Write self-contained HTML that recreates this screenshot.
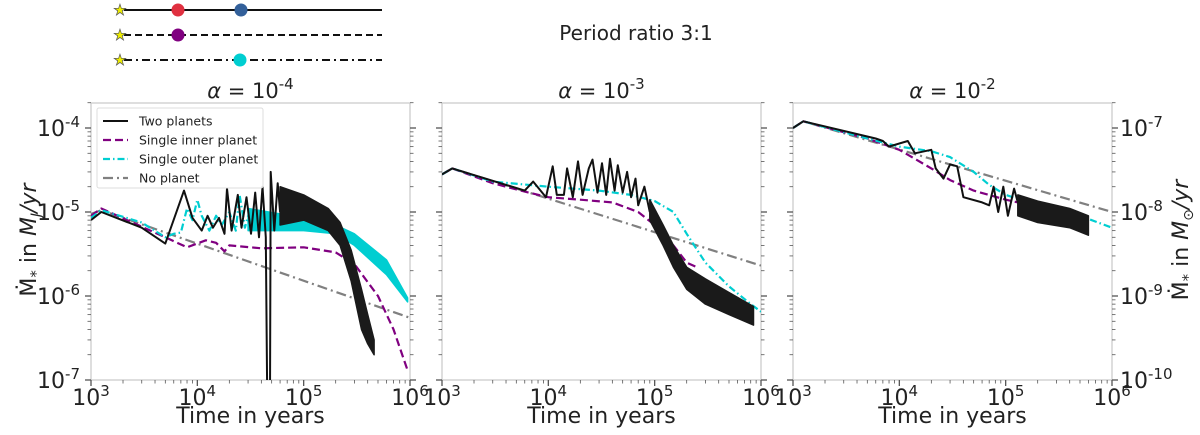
<!DOCTYPE html>
<html><head><meta charset="utf-8"><style>
html,body{margin:0;padding:0;background:#fff;width:1200px;height:435px;overflow:hidden;}
svg{display:block;font-family:"DejaVu Sans","Liberation Sans",sans-serif;overflow:hidden;}
</style></head><body>
<svg id="c" width="1200" height="435" viewBox="0 0 1200 435" xmlns="http://www.w3.org/2000/svg">
<g>
<line x1="124" y1="10" x2="382" y2="10" stroke="#111" stroke-width="2"/>
<line x1="124" y1="35" x2="382" y2="35" stroke="#111" stroke-width="2" stroke-dasharray="7,4"/>
<line x1="124" y1="60" x2="382" y2="60" stroke="#111" stroke-width="2" stroke-dasharray="8,4,2,4"/>
<text x="120" y="15" font-size="15" text-anchor="middle" fill="#ee0" stroke="#555" stroke-width="0.7">★</text>
<text x="120" y="40" font-size="15" text-anchor="middle" fill="#ee0" stroke="#555" stroke-width="0.7">★</text>
<text x="120" y="65" font-size="15" text-anchor="middle" fill="#ee0" stroke="#555" stroke-width="0.7">★</text>
<circle cx="178" cy="10" r="6.5" fill="#e03040"/>
<circle cx="241" cy="10" r="6.5" fill="#33609a"/>
<circle cx="178" cy="35" r="6.5" fill="#800080"/>
<circle cx="240" cy="60" r="6.5" fill="#00ced1"/>
</g>
<text x="636" y="40" font-size="20" text-anchor="middle" fill="#222">Period ratio 3:1</text>
<g id="plots"></g>
</svg>
<script>
// Panel 1 (alpha 1e-4), units MJ/yr
const p1_two_t=[1e3,1.25e3,3e3,5e3,7.5e3,9e3,1.1e4,1.25e4,1.4e4,1.6e4,1.8e4,1.9e4,2.1e4,2.4e4,2.6e4,2.9e4,3.2e4,3.5e4,3.8e4,4.1e4,4.4e4,4.6e4,4.7e4,4.8e4,4.9e4,5.3e4,5.7e4,6e4];
const p1_two_v=[8e-6,1e-5,6.5e-6,4.2e-6,1.8e-5,8.5e-6,6e-6,9e-6,6.5e-6,8.5e-6,5.5e-6,1.9e-5,6e-6,1.6e-5,6.5e-6,1.5e-5,5.5e-6,1.7e-5,5e-6,2e-5,5e-6,1e-8,1e-8,1e-8,3e-5,6e-6,2.2e-5,1e-5];
const p1_twoBand_t=[6e4,1e5,1.7e5,2.2e5,2.8e5,3.5e5,4e5,4.6e5];
const p1_twoBand_hi=[2e-5,1.6e-5,1.1e-5,7.5e-6,3.5e-6,1.2e-6,6e-7,3e-7];
const p1_twoBand_lo=[7e-6,8e-6,6e-6,4e-6,1.5e-6,4e-7,2.7e-7,2e-7];
const p1_inner_t=[1e3,1.25e3,5e3,8e3,1.2e4,1.5e4,1.8e4,2e4,4e4,1e5,2e5,3e5,5e5,7e5,9.5e5];
const p1_inner_v=[9e-6,1.1e-5,5e-6,3.8e-6,4.6e-6,4.3e-6,3.4e-6,4e-6,3.7e-6,3.8e-6,3.3e-6,2.4e-6,1e-6,4e-7,1.3e-7];
const p1_outer_t=[1e3,1.25e3,3e3,5e3,6e3,7e3,8e3,9e3,1e4,1.1e4,1.3e4,1.5e4,1.7e4,2e4,2.3e4,2.5e4,2.8e4,3e4];
const p1_outer_v=[8.5e-6,1.05e-5,7.5e-6,5e-6,5.5e-6,5.7e-6,1.1e-5,8e-6,1.4e-5,9e-6,6e-6,9e-6,7e-6,1e-5,6e-6,1.6e-5,6.5e-6,9e-6];
const p1_outerBand_t=[3e4,1e5,2e5,3e5,6e5,9.5e5];
const p1_outerBand_hi=[1.1e-5,8.5e-6,7e-6,5.5e-6,2.7e-6,9.5e-7];
const p1_outerBand_lo=[6e-6,6e-6,5.5e-6,4e-6,1.8e-6,8.5e-7];
const p1_none_t=[1e3,1.25e3,1e6];
const p1_none_v=[9.5e-6,1.05e-5,5.5e-7];
// Panel 2 (alpha 1e-3)
const p2_two_t=[1e3,1.25e3,6e3,7.2e3,9.5e3,1.1e4,1.2e4,1.4e4,1.5e4,1.7e4,1.9e4,2.1e4,2.4e4,2.6e4,2.9e4,3.2e4,3.5e4,3.8e4,4.2e4,4.5e4,5e4,5.5e4,6e4,6.6e4,7e4,8e4,9e4];
const p2_two_v=[2.8e-5,3.3e-5,1.8e-5,2.3e-5,1.5e-5,3.5e-5,1.6e-5,1.6e-5,3.3e-5,1.5e-5,4e-5,1.6e-5,3.3e-5,4.2e-5,1.7e-5,3.8e-5,1.6e-5,4.3e-5,1.8e-5,3.6e-5,1.7e-5,3e-5,1.5e-5,2.5e-5,1.2e-5,2e-5,1e-5];
const p2_twoBand_t=[9e4,1.2e5,1.5e5,2e5,3e5,5e5,8.5e5];
const p2_twoBand_hi=[1.4e-5,7e-6,4e-6,2.2e-6,1.6e-6,1.1e-6,7.5e-7];
const p2_twoBand_lo=[8e-6,4e-6,2.2e-6,1.2e-6,8e-7,6e-7,4.5e-7];
const p2_inner_t=[1e3,1.25e3,3e3,6e3,1e4,2e4,4e4,7e4,1e5,1.5e5,2e5,2.5e5];
const p2_inner_v=[2.8e-5,3.3e-5,2.2e-5,1.75e-5,1.5e-5,1.4e-5,1.3e-5,1e-5,7e-6,4e-6,2.5e-6,2.2e-6];
const p2_outer_t=[1e3,1.25e3,3e3,1e4,3e4,6e4,1e5,1.5e5,2e5,3e5,5e5,8e5,1e6];
const p2_outer_v=[2.8e-5,3.3e-5,2.3e-5,2e-5,1.8e-5,1.6e-5,1.35e-5,1e-5,5.5e-6,2.5e-6,1.3e-6,8e-7,6.5e-7];
const p2_none_t=[1e3,1.25e3,1e6];
const p2_none_v=[2.8e-5,3.3e-5,2.3e-6];
// Panel 3 (alpha 1e-2), units Msun/yr
const p3_two_t=[1e3,1.25e3,6e3,7e3,8e3,1.2e4,1.4e4,2e4,2.2e4,2.6e4,3e4,3.5e4,4e4,6e4,7e4,7.7e4,8.5e4,9.5e4,1.05e5,1.2e5,1.3e5];
const p3_two_v=[1e-7,1.2e-7,7.5e-8,7e-8,6e-8,7e-8,5e-8,5.5e-8,3.3e-8,2.5e-8,3.7e-8,3.5e-8,1.5e-8,1.3e-8,1.2e-8,2e-8,1e-8,2e-8,9e-9,1.9e-8,1.3e-8];
const p3_twoBand_t=[1.3e5,2e5,4e5,6e5];
const p3_twoBand_hi=[1.6e-8,1.35e-8,1.1e-8,9e-9];
const p3_twoBand_lo=[9e-9,7.5e-9,6.5e-9,5.3e-9];
const p3_inner_t=[1e3,1.25e3,5e3,1e4,2e4,3e4,5e4,1e5,2e5,4e5];
const p3_inner_v=[1e-7,1.2e-7,7.5e-8,5.5e-8,3.3e-8,2.4e-8,1.8e-8,1.4e-8,1.15e-8,9e-9];
const p3_outer_t=[1e3,1.25e3,5e3,1e4,2e4,3e4,5e4,7e4,1e5,2e5,5e5,1e6];
const p3_outer_v=[1e-7,1.2e-7,7.5e-8,6e-8,5.3e-8,4.5e-8,3e-8,2.1e-8,1.6e-8,1.2e-8,9e-9,6.5e-9];
const p3_none_t=[1e3,1.25e3,1e6];
const p3_none_v=[1e-7,1.2e-7,1e-8];
const legendLabels=["Two planets","Single inner planet","Single outer planet","No planet"];
const xTickLabels=["3","4","5","6"];
const alphaExps=["-4","-3","-2"];

const NS="http://www.w3.org/2000/svg";
const root=document.getElementById('plots');
function el(tag,attrs,parent){const e=document.createElementNS(NS,tag);for(const k in attrs)e.setAttribute(k,attrs[k]);(parent||root).appendChild(e);return e;}
const TOP=103,BOT=380,PERDEC=84;
const styles={two:{stroke:"#111",dash:"",w:2},inner:{stroke:"#800080",dash:"8,4",w:2.2},outer:{stroke:"#00ced1",dash:"7,3,1.5,3",w:2.2},none:{stroke:"#808080",dash:"10,4,2,4",w:2.2}};
function makePanel(idx,x0,x1,botExp,d){
  const X=t=>x0+(Math.log10(t)-3)/3*(x1-x0);
  const Y=v=>BOT-(Math.log10(v)-botExp)*PERDEC;
  const g=el('g',{});
  
  
  const cp=el('clipPath',{id:'cp'+idx},g);el('rect',{x:x0,y:TOP,width:x1-x0,height:BOT-TOP},cp);
  const fr=el('rect',{x:x0,y:TOP,width:x1-x0,height:BOT-TOP,fill:"none",stroke:"#ccc","stroke-width":1.3},g);
  
  
  for(let e=3;e<=6;e++){
    for(let m=1;m<10;m++){const t=m*Math.pow(10,e);if(t>1e6)break;const x=X(t);
      el('line',{x1:x,y1:BOT,x2:x,y2:BOT+(m==1?6:3.5),stroke:"#555","stroke-width":m==1?1.3:0.8},g);}
  }
  xTickLabels.forEach((s,i)=>{const tx=el('text',{x:X(Math.pow(10,3+i)),y:BOT+25,"font-size":22,"text-anchor":"middle",fill:"#222"},g);
    
    
    tx.appendChild(document.createTextNode("10"));const ts=el('tspan',{dy:-9,"font-size":15},tx);ts.textContent=s;});
  for(let e=botExp;e<=botExp+3;e++){for(let m=1;m<10;m++){const v=m*Math.pow(10,e);const y=Y(v);if(y<TOP-0.5)break;
    const L=m==1?6:3.5,w=m==1?1.3:0.8;
    el('line',{x1:x0,y1:y,x2:x0-L,y2:y,stroke:"#555","stroke-width":w},g);
    el('line',{x1:x1,y1:y,x2:x1+L,y2:y,stroke:"#555","stroke-width":w},g);}}
  const pg=el('g',{"clip-path":"url(#cp"+idx+")"},g);
  function line(ts,vs,st,name){const p=el('path',{d:ts.map((t,i)=>(i?"L":"M")+X(t).toFixed(1)+","+Y(vs[i]).toFixed(1)).join(""),fill:"none",stroke:st.stroke,"stroke-width":st.w,"stroke-dasharray":st.dash,"stroke-linejoin":"round"},pg);
    
    }
  function band(ts,hi,lo,col,name){let dd=ts.map((t,i)=>(i?"L":"M")+X(t).toFixed(1)+","+Y(hi[i]).toFixed(1)).join("");
    for(let i=ts.length-1;i>=0;i--)dd+="L"+X(ts[i]).toFixed(1)+","+Y(lo[i]).toFixed(1);dd+="Z";
    const p=el('path',{d:dd,fill:col,stroke:col,"stroke-width":1.5,"stroke-linejoin":"round"},pg);
    
    }
  line(d.none_t,d.none_v,styles.none,'no-planet-line');
  line(d.inner_t,d.inner_v,styles.inner,'single-inner-planet-line');
  if(d.outerBand_t)band(d.outerBand_t,d.outerBand_hi,d.outerBand_lo,"#00ced1",'single-outer-planet-band');
  line(d.outer_t,d.outer_v,styles.outer,'single-outer-planet-line');
  line(d.two_t,d.two_v,styles.two,'two-planets-line');
  band(d.twoBand_t,d.twoBand_hi,d.twoBand_lo,"#1a1a1a",'two-planets-band');
  const tt=el('text',{x:(x0+x1)/2,y:98,"font-size":21,"text-anchor":"middle",fill:"#222"},g);
  
  
  const a=el('tspan',{"font-style":"italic"},tt);a.textContent="α";
  tt.appendChild(document.createTextNode(" = 10"));
  const sp=el('tspan',{dy:-9,"font-size":15},tt);sp.textContent=alphaExps[idx];
  const xl=el('text',{x:(x0+x1)/2,y:423,"font-size":22,"text-anchor":"middle",fill:"#222"},g);
  
  
  xl.textContent="Time in years";
  return {g,x0,x1,Y};
}
makePanel(0,91,410,-7,{two_t:p1_two_t,two_v:p1_two_v,twoBand_t:p1_twoBand_t,twoBand_hi:p1_twoBand_hi,twoBand_lo:p1_twoBand_lo,inner_t:p1_inner_t,inner_v:p1_inner_v,outer_t:p1_outer_t,outer_v:p1_outer_v,outerBand_t:p1_outerBand_t,outerBand_hi:p1_outerBand_hi,outerBand_lo:p1_outerBand_lo,none_t:p1_none_t,none_v:p1_none_v});
makePanel(1,442,761,-7,{two_t:p2_two_t,two_v:p2_two_v,twoBand_t:p2_twoBand_t,twoBand_hi:p2_twoBand_hi,twoBand_lo:p2_twoBand_lo,inner_t:p2_inner_t,inner_v:p2_inner_v,outer_t:p2_outer_t,outer_v:p2_outer_v,none_t:p2_none_t,none_v:p2_none_v});
makePanel(2,793,1112,-10,{two_t:p3_two_t,two_v:p3_two_v,twoBand_t:p3_twoBand_t,twoBand_hi:p3_twoBand_hi,twoBand_lo:p3_twoBand_lo,inner_t:p3_inner_t,inner_v:p3_inner_v,outer_t:p3_outer_t,outer_v:p3_outer_v,none_t:p3_none_t,none_v:p3_none_v});
for(let e=-7;e<=-4;e++){const y=BOT-(e+7)*PERDEC;const t=el('text',{x:80,y:y+8,"font-size":22,"text-anchor":"end",fill:"#222"});
  
  
  t.appendChild(document.createTextNode("10"));const s=el('tspan',{dy:-9,"font-size":15},t);s.textContent=String(e);}
for(let e=-10;e<=-7;e++){const y=BOT-(e+10)*PERDEC;const t=el('text',{x:1120,y:y+8,"font-size":22,"text-anchor":"start",fill:"#222"});
  
  
  t.appendChild(document.createTextNode("10"));const s=el('tspan',{dy:-9,"font-size":15},t);s.textContent=String(e);}
const yl=el('text',{x:0,y:0,"font-size":22,"text-anchor":"middle",fill:"#222",transform:"translate(36,240) rotate(-90)"});


yl.innerHTML='Ṁ<tspan font-size="15" dy="5">*</tspan><tspan dy="-5"> in </tspan><tspan font-style="italic">M</tspan><tspan font-size="14" dy="5" font-style="italic">J</tspan><tspan dy="-5" font-style="italic">/yr</tspan>';
const yr=el('text',{x:0,y:0,"font-size":22,"text-anchor":"middle",fill:"#222",transform:"translate(1188,240) rotate(-90)"});


yr.innerHTML='Ṁ<tspan font-size="15" dy="5">*</tspan><tspan dy="-5"> in </tspan><tspan font-style="italic">M</tspan><tspan font-size="14" dy="5">⊙</tspan><tspan dy="-5" font-style="italic">/yr</tspan>';
const lg=el('g',{});


el('rect',{x:97,y:108,width:166,height:80,fill:"#fff","fill-opacity":0.85,stroke:"#ddd",rx:2},lg);
const keys=['two','inner','outer','none'];
legendLabels.forEach((lab,i)=>{const y=121+i*19,st=styles[keys[i]];
  const en=el('g',{},lg);
  
  
  el('line',{x1:103,y1:y,x2:128,y2:y,stroke:st.stroke,"stroke-width":st.w,"stroke-dasharray":st.dash},en);
  const t=el('text',{x:139,y:y+4.5,"font-size":12.5,fill:"#222"},en);t.textContent=lab;});
</script>
</body></html>
